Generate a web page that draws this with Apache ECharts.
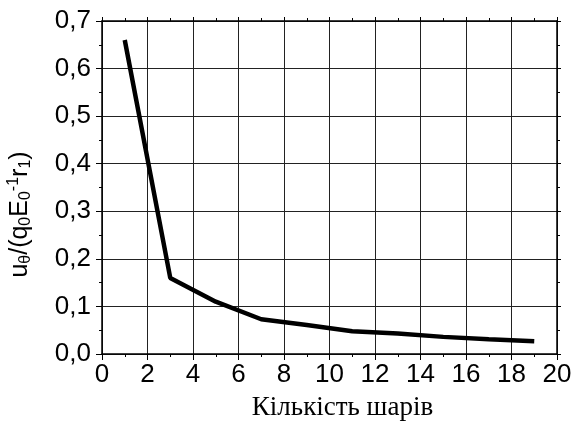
<!DOCTYPE html>
<html>
<head>
<meta charset="utf-8">
<script src="https://cdn.jsdelivr.net/npm/echarts@6/dist/echarts.min.js"></script>
<style>
  html, body { margin: 0; padding: 0; background: #fff; }
  #chart { width: 574px; height: 423px; }
</style>
</head>
<body>
<div id="chart"></div>
<script>
// layer count vs normalised displacement
const layers = [1, 3, 5, 7, 9, 11, 13, 15, 17, 19];
const displacement = [0.66, 0.16, 0.11, 0.073, 0.061, 0.048, 0.043, 0.036, 0.031, 0.027];

const xTitle = 'Кількість шарів';

const chart = echarts.init(document.getElementById('chart'));

const frameLine = { show: true, onZero: false, lineStyle: { color: '#000', width: 1.5 } };
const gridLine = { show: true, lineStyle: { color: '#222', width: 1 } };
const fmtY = (v) => v.toFixed(1).replace('.', ',');

chart.setOption({
  animation: false,
  grid: { left: 102, right: 17, top: 21, bottom: 69, outerBoundsMode: 'none' },
  xAxis: [
    {
      type: 'value',
      min: 0,
      max: 20,
      interval: 2,
      axisLine: frameLine,
      axisTick: { show: true, inside: false, length: 6, lineStyle: { color: '#000' } },
      minorTick: { show: true, splitNumber: 2, length: 3, lineStyle: { color: '#000' } },
      splitLine: gridLine,
      axisLabel: { fontFamily: 'Liberation Sans', fontSize: 26, color: '#000', margin: 8 },
      name: xTitle,
      nameLocation: 'middle',
      nameGap: 40,
      nameTextStyle: { fontFamily: 'Liberation Serif', fontSize: 27, color: '#000', padding: [0, 0, 0, 26] }
    },
    {
      type: 'value',
      position: 'top',
      min: 0,
      max: 20,
      interval: 2,
      axisLine: frameLine,
      axisTick: { show: true, inside: false, length: 4, lineStyle: { color: '#000' } },
      minorTick: { show: true, splitNumber: 2, length: 3, lineStyle: { color: '#000' } },
      splitLine: { show: false },
      axisLabel: { show: false }
    }
  ],
  yAxis: [
    {
      type: 'value',
      min: 0,
      max: 0.7,
      interval: 0.1,
      axisLine: frameLine,
      axisTick: { show: true, inside: false, length: 6, lineStyle: { color: '#000' } },
      minorTick: { show: true, splitNumber: 2, length: 3, lineStyle: { color: '#000' } },
      splitLine: gridLine,
      axisLabel: { fontFamily: 'Liberation Sans', fontSize: 26, color: '#000', margin: 11, formatter: fmtY },
      name: '{n|u}{s|θ}{n|/(q}{s|0}{n|E}{s|0}{p|-1}{n|r}{s|1}{n|)}',
      nameLocation: 'middle',
      nameRotate: 90,
      nameGap: 68,
      nameTextStyle: {
        color: '#000',
        padding: [0, 0, 0, -54],
        rich: {
          n: { fontFamily: 'Liberation Sans', fontSize: 25, color: '#000' },
          s: { fontFamily: 'Liberation Sans', fontSize: 16, color: '#000', padding: [12, 0, 0, 0] },
          p: { fontFamily: 'Liberation Sans', fontSize: 16, color: '#000', padding: [0, 0, 12, 0] }
        }
      }
    },
    {
      type: 'value',
      position: 'right',
      min: 0,
      max: 0.7,
      interval: 0.1,
      axisLine: frameLine,
      axisTick: { show: true, inside: false, length: 4, lineStyle: { color: '#000' } },
      minorTick: { show: true, splitNumber: 2, length: 3, lineStyle: { color: '#000' } },
      splitLine: { show: false },
      axisLabel: { show: false }
    }
  ],
  series: [
    {
      type: 'line',
      data: layers.map((x, i) => [x, displacement[i]]),
      showSymbol: false,
      lineStyle: { color: '#000', width: 4.5 },
      itemStyle: { color: '#000' }
    }
  ]
});
</script>
</body>
</html>
